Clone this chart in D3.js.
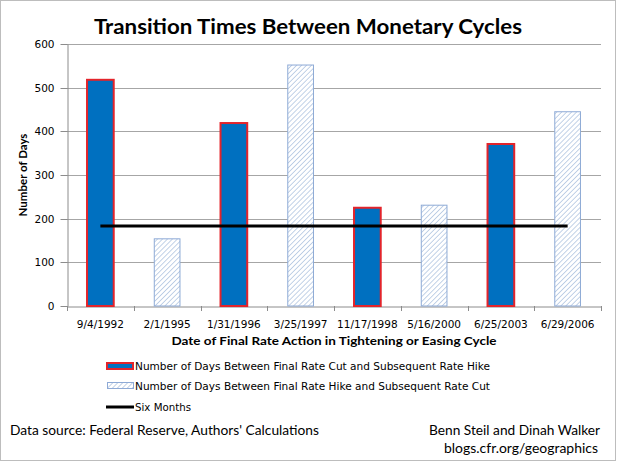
<!DOCTYPE html>
<html><head><meta charset="utf-8">
<script src="https://cdn.jsdelivr.net/npm/d3@7"></script>
<style>body{margin:0;background:#fff}svg{display:block}</style>
</head><body><svg id="c" width="617" height="462"></svg>
<script>
const categories = ["9/4/1992","2/1/1995","1/31/1996","3/25/1997","11/17/1998","5/16/2000","6/25/2003","6/29/2006"];
const cutToHike = [518, null, 419, null, 225, null, 371, null];
const hikeToCut = [null, 155, null, 553, null, 232, null, 446];
const sixMonths = [183,183,183,183,183,183,183,183];
const yTicks = [0,100,200,300,400,500,600];
const legendLabels = ["Number of Days Between Final Rate Cut and Subsequent Rate Hike","Number of Days Between Final Rate Hike and Subsequent Rate Cut","Six Months"];

const svg = d3.select("#c");
const W=617,H=462;
const m={l:67,r:601,t:44,b:306};
svg.append("rect").attr("x",0.5).attr("y",0.5).attr("width",W-2).attr("height",H-2).attr("fill","#fff").attr("stroke","#bdbdbd");

const defs=svg.append("defs");
const pat=defs.append("pattern").attr("id","hatch").attr("patternUnits","userSpaceOnUse").attr("width",3.5).attr("height",3.5).attr("patternTransform","rotate(45)");
pat.append("rect").attr("width",3.5).attr("height",3.5).attr("fill","#fff");
pat.append("line").attr("x1",0).attr("y1",0).attr("x2",0).attr("y2",3.5).attr("stroke","#aec4e0").attr("stroke-width",1.5);

const x=d3.scaleBand().domain(categories).range([m.l,m.r]).paddingInner(0.6).paddingOuter(0.3);
const xb=d3.scaleBand().domain(categories).range([m.l,m.r]);
const y=d3.scaleLinear().domain([0,600]).range([m.b,m.t]);

// gridlines
svg.append("g").selectAll("line").data(yTicks.filter(d=>d>0)).join("line")
 .attr("x1",m.l).attr("x2",m.r).attr("y1",d=>Math.round(y(d))+0.5).attr("y2",d=>Math.round(y(d))+0.5)
 .attr("stroke","#a6a6a6").attr("stroke-width",1);

// y axis
const ya=svg.append("g").attr("transform",`translate(${m.l+0.5},0)`).call(d3.axisLeft(y).tickValues(yTicks).tickSize(7).tickSizeOuter(0));
ya.select(".domain").attr("stroke","#8c8c8c");
ya.selectAll(".tick line").attr("stroke","#8c8c8c");
ya.selectAll("text").attr("font-family","DejaVu Sans, Verdana").attr("font-size",10.5).attr("fill","#000").attr("dx",-3);
ya.selectAll(".tick").attr("transform",d=>`translate(0,${Math.round(y(d))+0.5})`);

// x axis
const xa=svg.append("g").attr("transform",`translate(0,${m.b+0.5})`).call(d3.axisBottom(xb).tickSize(0).tickSizeOuter(0));
xa.select(".domain").attr("stroke","#8c8c8c");
xa.selectAll("text").attr("font-family","DejaVu Sans, Verdana").attr("font-size",10.5).attr("fill","#000").attr("dy",18);
const bounds=categories.map(c=>xb(c)).concat([m.r]);
svg.append("g").selectAll("line").data(bounds).join("line")
 .attr("x1",d=>Math.round(d)+0.5).attr("x2",d=>Math.round(d)+0.5).attr("y1",m.b).attr("y2",m.b+5).attr("stroke","#8c8c8c");

// bars
svg.append("g").selectAll("rect").data(categories.map((c,i)=>({c,v:cutToHike[i]})).filter(d=>d.v!=null)).join("rect")
 .attr("x",d=>x(d.c)).attr("width",x.bandwidth()).attr("y",d=>y(d.v)).attr("height",d=>y(0)-y(d.v))
 .attr("fill","#0070c0").attr("stroke","#e3242b").attr("stroke-width",2);
svg.append("g").selectAll("rect").data(categories.map((c,i)=>({c,v:hikeToCut[i]})).filter(d=>d.v!=null)).join("rect")
 .attr("x",d=>x(d.c)+0.5).attr("width",x.bandwidth()-1).attr("y",d=>y(d.v)+0.5).attr("height",d=>y(0)-y(d.v)-0.5)
 .attr("fill","url(#hatch)").attr("stroke","#8eaad6").attr("stroke-width",1);

// six months line
const line=d3.line().x((d,i)=>xb(categories[i])+xb.bandwidth()/2).y(d=>y(d));
svg.append("path").datum(sixMonths).attr("d",line).attr("fill","none").attr("stroke","#000").attr("stroke-width",3);

// titles
function fit(sel,w){const l=sel.node().getComputedTextLength(); if(l>0) sel.attr("textLength",w).attr("lengthAdjust","spacingAndGlyphs");}
const t=svg.append("text").attr("x",308).attr("y",34).attr("text-anchor","middle").attr("font-family","Lato, Carlito, sans-serif").attr("font-weight","bold").attr("font-size",21).text("Transition Times Between Monetary Cycles");
fit(t,428);
svg.append("text").attr("transform","translate(27,175) rotate(-90)").attr("text-anchor","middle").attr("font-family","Lato, sans-serif").attr("font-weight","bold").attr("font-size",11.5).text("Number of Days");
const xt=svg.append("text").attr("x",334).attr("y",345).attr("text-anchor","middle").attr("font-family","Lato, sans-serif").attr("font-weight","bold").attr("font-size",12).text("Date of Final Rate Action in Tightening or Easing  Cycle");
fit(xt,325);

// legend
const lg=svg.append("g");
const ly=[366,386,407];
lg.append("rect").attr("x",107).attr("y",ly[0]-3).attr("width",26).attr("height",6).attr("fill","#0070c0").attr("stroke","#e3242b").attr("stroke-width",2);
lg.append("rect").attr("x",107.5).attr("y",ly[1]-3.5).attr("width",26).attr("height",6).attr("fill","url(#hatch)").attr("stroke","#8eaad6");
lg.append("line").attr("x1",106).attr("x2",134).attr("y1",ly[2]).attr("y2",ly[2]).attr("stroke","#000").attr("stroke-width",3);
const lw=[355,355,56];
legendLabels.forEach((s,i)=>{const tt=lg.append("text").attr("x",135).attr("y",ly[i]+4).attr("font-family","DejaVu Sans, Verdana").attr("font-size",10).text(s); fit(tt,lw[i]);});

// footer
const f1=svg.append("text").attr("x",10).attr("y",435).attr("font-family","Lato, Carlito, sans-serif").attr("font-size",13).text("Data source: Federal Reserve, Authors' Calculations");
fit(f1,309);
const f2=svg.append("text").attr("x",600).attr("y",435).attr("text-anchor","end").attr("font-family","Lato, Carlito, sans-serif").attr("font-size",13).text("Benn Steil and Dinah Walker");
fit(f2,171);
const f3=svg.append("text").attr("x",598).attr("y",453).attr("text-anchor","end").attr("font-family","Lato, Carlito, sans-serif").attr("font-size",13).text("blogs.cfr.org/geographics");
fit(f3,154);
</script></body></html>
